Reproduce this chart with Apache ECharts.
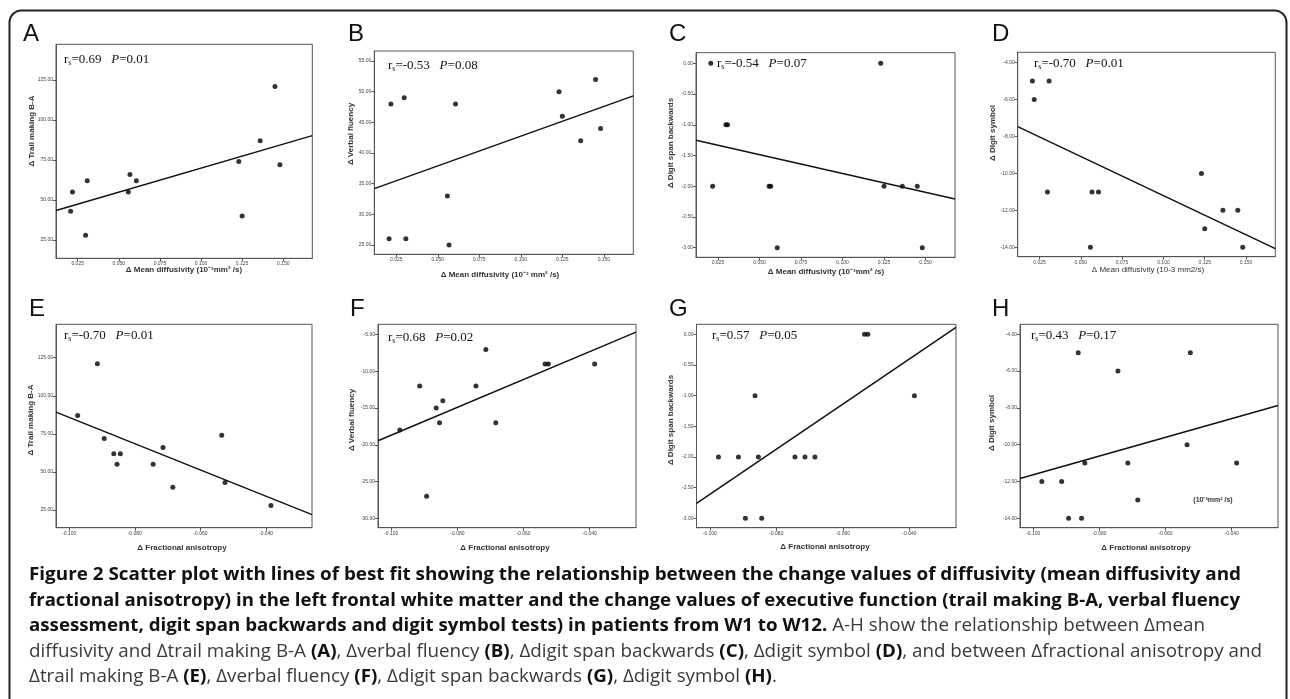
<!DOCTYPE html>
<html><head><meta charset="utf-8">
<script src="https://cdn.jsdelivr.net/npm/echarts@6/dist/echarts.min.js"></script>
<style>html,body{margin:0;padding:0;background:#fff}#c{width:1290px;height:699px}</style>
</head><body><div id="c"></div>
<script>
// ---------- data ----------
const mdChange = [0.0207, 0.0218, 0.0298, 0.0308, 0.0558, 0.0568, 0.0607, 0.1230, 0.1250, 0.1360, 0.1450, 0.1480];
const faChange = [-0.0974, -0.0914, -0.0893, -0.0864, -0.0854, -0.0844, -0.0744, -0.0714, -0.0684, -0.0535, -0.0525, -0.0385];
const trailMD   = [43, 55, 28, 62, 55, 66, 62, 74, 40, 87, 121, 72];
const fluencyMD = [26, 48, 49, 26, 33, 25, 48, 50, 46, 42, 52, 44];
const spanMD    = [0, -2, -1, -1, -2, -2, -3, 0, -2, -2, -2, -3];
const symbolMD  = [-5, -6, -11, -5, -14, -11, -11, -10, -13, -12, -12, -14];
const trailFA   = [87, 121, 72, 62, 55, 62, 55, 66, 40, 74, 43, 28];
const fluencyFA = [-18, -12, -27, -15, -17, -14, -12, -7, -17, -9, -9, -9];
const spanFA    = [-2, -2, -3, -1, -2, -3, -2, -2, -2, 0, 0, -1];
const symbolFA  = [-12, -12, -14, -5, -14, -11, -6, -11, -13, -10, -5, -11];

const mdTicks = [0.025, 0.05, 0.075, 0.1, 0.125, 0.15];
const faTicks = [-0.1, -0.08, -0.06, -0.04];
const trailTicks = [25, 50, 75, 100, 125];
const fluencyMDTicks = [25, 30, 35, 40, 45, 50, 55];
const spanTicks = [-3, -2.5, -2, -1.5, -1, -0.5, 0];
const symbolTicks = [-14, -12, -10, -8, -6, -4];
const fluencyFATicks = [-30, -25, -20, -15, -10, -5];

const letters = ['A','B','C','D','E','F','G','H'];
const rsValues = ['0.69', '-0.53', '-0.54', '-0.70', '-0.70', '0.68', '0.57', '0.43'];
const pValues  = ['0.01', '0.08', '0.07', '0.01', '0.01', '0.02', '0.05', '0.17'];
const yNames = ['Δ Trail making B-A','Δ Verbal fluency','Δ Digit span backwards','Δ Digit symbol',
                'Δ Trail making B-A','Δ Verbal fluency','Δ Digit span backwards','Δ Digit symbol'];
const xNames = ['Δ Mean diffusivity (10⁻³mm² /s)','Δ Mean diffusivity (10⁻³ mm² /s)','Δ Mean diffusivity (10⁻³mm² /s)','Δ Mean diffusivity (10-3 mm2/s)',
                'Δ Fractional anisotropy','Δ Fractional anisotropy','Δ Fractional anisotropy','Δ Fractional anisotropy'];
const unitNote = '(10⁻³mm² /s)';

const captionLines = [
  [['b','Figure 2 Scatter plot with lines of best fit showing the relationship between the change values of diffusivity (mean diffusivity and']],
  [['b','fractional anisotropy) in the left frontal white matter and the change values of executive function (trail making B-A, verbal fluency']],
  [['b','assessment, digit span backwards and digit symbol tests) in patients from W1 to W12.'],['r',' A-H show the relationship between Δmean']],
  [['r','diffusivity and Δtrail making B-A '],['b','(A)'],['r',', Δverbal fluency '],['b','(B)'],['r',', Δdigit span backwards '],['b','(C)'],['r',', Δdigit symbol '],['b','(D)'],['r',', and between Δfractional anisotropy and']],
  [['r','Δtrail making B-A '],['b','(E)'],['r',', Δverbal fluency '],['b','(F)'],['r',', Δdigit span backwards '],['b','(G)'],['r',', Δdigit symbol '],['b','(H)'],['r','.']]
];

// ---------- layout ----------
const panels = [
  {x: mdChange, y: trailMD,   xt: mdTicks, yt: trailTicks,     box:[56, 44.3, 312.3, 258.3],  xr:[0.0118, 0.1677], yr:[13.6, 147.3]},
  {x: mdChange, y: fluencyMD, xt: mdTicks, yt: fluencyMDTicks, box:[374.3, 51, 633.3, 254.3], xr:[0.0118, 0.1677], yr:[23.48, 56.63]},
  {x: mdChange, y: spanMD,    xt: mdTicks, yt: spanTicks,      box:[696, 52.7, 955, 257.3],   xr:[0.0118, 0.1677], yr:[-3.156, 0.172]},
  {x: mdChange, y: symbolMD,  xt: mdTicks, yt: symbolTicks,    box:[1017.7, 52.3, 1275.3, 256.7], xr:[0.0118, 0.1677], yr:[-14.51, -3.44]},
  {x: faChange, y: trailFA,   xt: faTicks, yt: trailTicks,     box:[56, 324.3, 312, 527.7],   xr:[-0.1040, -0.0260], yr:[13.4, 146.9]},
  {x: faChange, y: fluencyFA, xt: faTicks, yt: fluencyFATicks, box:[378, 324.3, 636, 527.7],  xr:[-0.1040, -0.0260], yr:[-31.3, -3.58]},
  {x: faChange, y: spanFA,    xt: faTicks, yt: spanTicks,      box:[696.5, 324.3, 956, 527.7], xr:[-0.1040, -0.0260], yr:[-3.153, 0.163]},
  {x: faChange, y: symbolFA,  xt: faTicks, yt: symbolTicks,    box:[1020, 324.3, 1278, 527.7], xr:[-0.1040, -0.0260], yr:[-14.51, -3.46]}
];
const letterPos = [[23,34],[348,34],[669,34],[992,34],[29,309],[350,309],[669,309],[992,309]];
const statPos = [[64,60],[388,66],[717,64],[1034,64],[64,336],[388,338],[712,336],[1031,336]];
const yNamePos = [[32,131],[351,134],[671,143],[993,133],[31,420],[352,420],[671,420],[992,423]];
const xNamePos = [[184,270],[500,275],[826,272],[1148,270],[182,548],[505,548],[825,547],[1146,548]];
const captionX = 29, captionY = [575, 600.5, 626, 651.5, 677];
const lineEnds = [1241, 1240, null, 1262, null];   // measured ends of caption lines 1, 2 and 4

function fit(xs, ys) {
  const n = xs.length;
  const mx = xs.reduce((a,b)=>a+b,0)/n, my = ys.reduce((a,b)=>a+b,0)/n;
  let sxy = 0, sxx = 0;
  for (let i=0;i<n;i++){ sxy += (xs[i]-mx)*(ys[i]-my); sxx += (xs[i]-mx)*(xs[i]-mx); }
  const m = sxy/sxx; return {m, b: my - m*mx};
}

const grid = [], xAxis = [], yAxis = [], series = [], graphic = [];
const axisCol = '#555';
panels.forEach((p, i) => {
  const [l,t,r,b] = p.box;
  grid.push({left:l, top:t, width:r-l, height:b-t, show:true, borderColor:axisCol, borderWidth:1, backgroundColor:'transparent'});
  const common = (ticks, dec) => ({
    axisLine:{show:true, onZero:false, lineStyle:{color:axisCol, width:1}},
    axisTick:{show:true, inside:false, length:3, lineStyle:{color:axisCol, width:1}, customValues:ticks},
    axisLabel:{fontSize:5, color:'#444', margin:3, fontFamily:'Liberation Sans', customValues:ticks, formatter:v=>Number(v).toFixed(dec)},
    splitLine:{show:false}
  });
  xAxis.push(Object.assign({type:'value', gridIndex:i, min:p.xr[0], max:p.xr[1]}, common(p.xt, 3)));
  yAxis.push(Object.assign({type:'value', gridIndex:i, min:p.yr[0], max:p.yr[1]}, common(p.yt, 2)));
  series.push({type:'scatter', xAxisIndex:i, yAxisIndex:i, symbolSize:5, itemStyle:{color:'#000'},
    data: p.x.map((v,k)=>[v, p.y[k]]), silent:true});
  const f = fit(p.x, p.y);
  series.push({type:'line', xAxisIndex:i, yAxisIndex:i, symbol:'none', silent:true, clip:true,
    lineStyle:{color:'#111', width:1.5},
    data: [[p.xr[0], f.b + f.m*p.xr[0]], [p.xr[1], f.b + f.m*p.xr[1]]]});

  graphic.push({type:'text', x:letterPos[i][0], y:letterPos[i][1], style:{text:letters[i], font:'24px "Liberation Sans"', fill:'#111', verticalAlign:'middle'}});
  graphic.push({type:'text', x:statPos[i][0], y:statPos[i][1], style:{
    text:'{r|r}{s|s}{r|=' + rsValues[i] + '   }{i|P}{r|=' + pValues[i] + '}', verticalAlign:'middle',
    rich:{ r:{font:'13px "Liberation Serif"', fill:'#111'},
           i:{font:'italic 13px "Liberation Serif"', fill:'#111'},
           s:{font:'8px "Liberation Serif"', fill:'#111', verticalAlign:'bottom'} }}});
  graphic.push({type:'text', x:yNamePos[i][0], y:yNamePos[i][1], rotation:Math.PI/2, style:{
    text:yNames[i], font:'bold 8px "Liberation Sans"', fill:'#333', align:'center', verticalAlign:'middle'}});
  graphic.push({type:'text', x:xNamePos[i][0], y:xNamePos[i][1], style:{
    text:xNames[i], font:(i===3?'':'bold ') + '8px "Liberation Sans"', fill:'#333', align:'center', verticalAlign:'middle'}});
});
graphic.push({type:'text', x:1213, y:500, style:{text:unitNote, font:'bold 7px "Liberation Sans"', fill:'#333', align:'center', verticalAlign:'middle'}});

// border frame
graphic.push({type:'rect', shape:{x:9.5, y:10.5, width:1277, height:800, r:12}, style:{fill:'none', stroke:'#222', lineWidth:2}, z:-1});

// caption: horizontal squeeze per face so the wrapped lines end where they do in the figure
const capFont = {b:'bold 18px "Open Sans"', r:'18px "Open Sans"'};
const capFill = {b:'#111', r:'#3a3a3a'};
const ctx = document.createElement('canvas').getContext('2d');
function w(kind, t){ ctx.font = capFont[kind]; return ctx.measureText(t).width; }
function sums(segs){ let b=0, r=0; segs.forEach(([k,t])=>{ if(k==='b') b+=w(k,t); else r+=w(k,t); }); return {b, r}; }
const kb1 = (lineEnds[0] - captionX) / sums(captionLines[0]).b;
const kb2 = (lineEnds[1] - captionX) / sums(captionLines[1]).b;
const kb = (kb1 + kb2) / 2;
const s4 = sums(captionLines[3]);
const kr = (lineEnds[3] - captionX - s4.b*kb) / s4.r;
const lineScale = [{b:kb1, r:kr}, {b:kb2, r:kr}, {b:kb, r:kr}, {b:kb, r:kr}, {b:kb, r:kr}];
captionLines.forEach((segs, j) => {
  let cx = captionX;
  segs.forEach(([k,t]) => {
    const sc = lineScale[j][k];
    graphic.push({type:'text', x:cx, y:captionY[j], scaleX:sc, style:{text:t, font:capFont[k], fill:capFill[k], verticalAlign:'middle'}});
    cx += w(k,t)*sc;
  });
});

const chart = echarts.init(document.getElementById('c'), null, {renderer:'canvas'});
chart.setOption({animation:false, backgroundColor:'#fff', grid, xAxis, yAxis, series, graphic});
</script></body></html>
